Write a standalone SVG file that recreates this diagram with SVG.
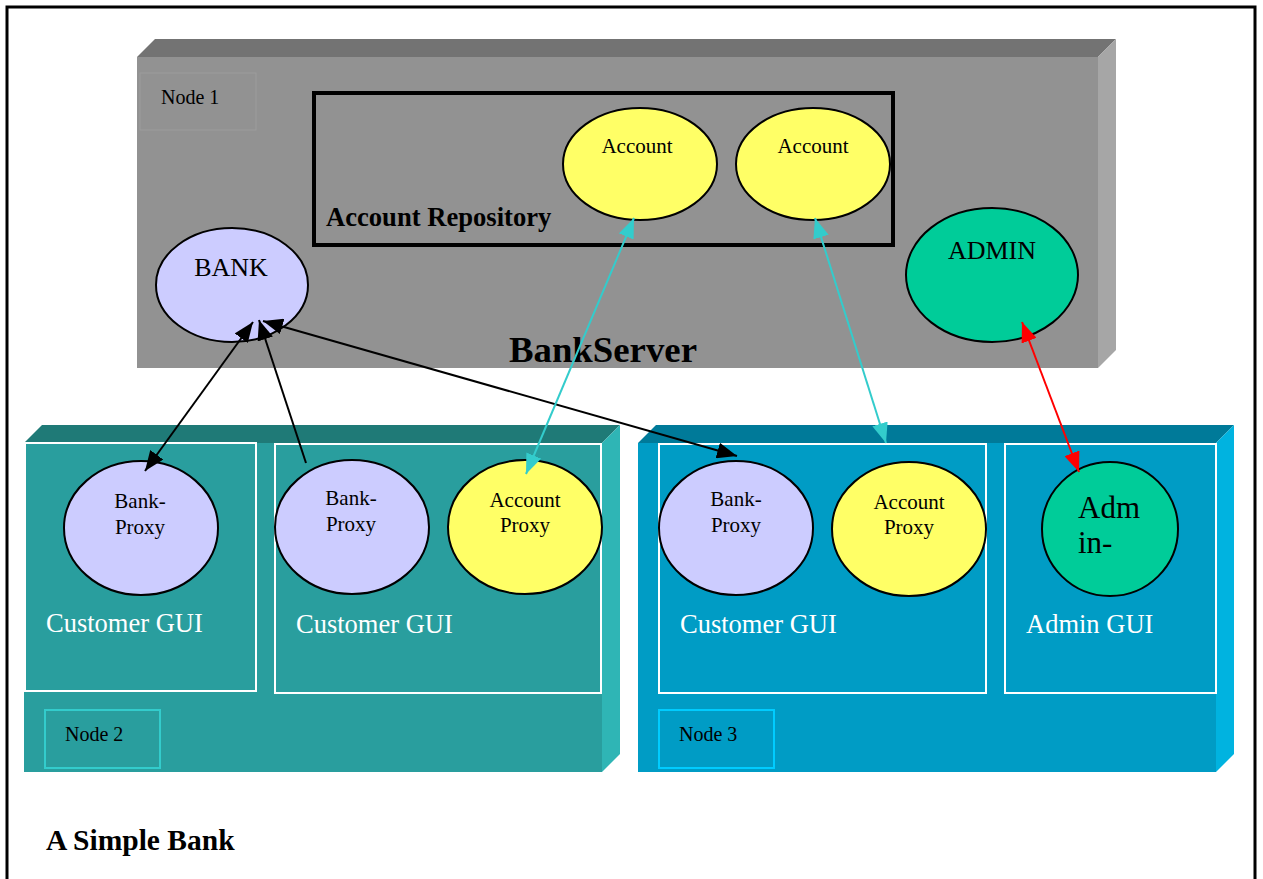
<svg xmlns="http://www.w3.org/2000/svg" width="1263" height="879" viewBox="0 0 1263 879">
  <defs>
    <style>
      .serif { font-family: "Liberation Serif", "Times New Roman", serif; }
      .node-label { font-size: 20px; fill: #000; }
      .obj { stroke: #000; stroke-width: 2; }
      .obj-text { font-size: 21px; fill: #000; text-anchor: middle; }
      .big-text { font-size: 26px; fill: #000; text-anchor: middle; }
      .gui { fill: none; stroke: #ffffff; stroke-width: 2; }
      .gui-text { font-size: 26.5px; fill: #ffffff; }
      .bank { fill: #ccccff; }
      .acct { fill: #ffff66; }
      .admin { fill: #00cc99; }
      .conn { fill: none; stroke-width: 2; }
    </style>
    <marker id="ah-black" viewBox="0 0 20 16" refX="20" refY="8" markerWidth="20" markerHeight="16" markerUnits="userSpaceOnUse" orient="auto-start-reverse">
      <path d="M0,0 L20,8 L0,16 Z" fill="#000"/>
    </marker>
    <marker id="ah-cyan" viewBox="0 0 20 16" refX="20" refY="8" markerWidth="20" markerHeight="16" markerUnits="userSpaceOnUse" orient="auto-start-reverse">
      <path d="M0,0 L20,8 L0,16 Z" fill="#33cccc"/>
    </marker>
    <marker id="ah-red" viewBox="0 0 20 16" refX="20" refY="8" markerWidth="20" markerHeight="16" markerUnits="userSpaceOnUse" orient="auto-start-reverse">
      <path d="M0,0 L20,8 L0,16 Z" fill="#ff0000"/>
    </marker>
  </defs>

  <rect x="0" y="0" width="1263" height="879" fill="#ffffff"/>
  <!-- page frame -->
  <path d="M7,879 V7 H1255 V879" fill="none" stroke="#000" stroke-width="3"/>

  <!-- Node 1: BankServer -->
  <g id="node1">
    <polygon points="137,57 155,39 1116,39 1098,57" fill="#737373"/>
    <polygon points="1098,57 1116,39 1116,350 1098,368" fill="#a6a6a6"/>
    <rect x="137" y="57" width="961" height="311" fill="#929292"/>
    <rect x="140" y="73" width="116" height="57" fill="none" stroke="#9c9c9c" stroke-width="1"/>
    <text class="serif node-label" x="161" y="104">Node 1</text>
    <text class="serif" x="603" y="362" font-size="36.8" font-weight="bold" text-anchor="middle">BankServer</text>
  </g>

  <g id="account-repository">
    <rect x="314" y="93" width="579" height="152" fill="none" stroke="#000" stroke-width="4"/>
    <text class="serif" x="326" y="226" font-size="26.6" font-weight="bold">Account Repository</text>
  </g>

  <g id="account-1">
    <ellipse class="obj acct" cx="640" cy="164" rx="77" ry="56"/>
    <text class="serif obj-text" x="637" y="153">Account</text>
  </g>
  <g id="account-2">
    <ellipse class="obj acct" cx="813" cy="164" rx="77" ry="56"/>
    <text class="serif obj-text" x="813" y="153">Account</text>
  </g>

  <g id="bank">
    <ellipse class="obj bank" cx="232" cy="285" rx="76" ry="57"/>
    <text class="serif big-text" x="231" y="276">BANK</text>
  </g>

  <g id="admin">
    <ellipse class="obj admin" cx="992" cy="275" rx="86" ry="67"/>
    <text class="serif big-text" x="992" y="259">ADMIN</text>
  </g>

  <!-- Node 2: customer workstation -->
  <g id="node2">
    <polygon points="24,443 42,425 620,425 602,443" fill="#1f7a77"/>
    <polygon points="602,443 620,425 620,754 602,772" fill="#2fb5b5"/>
    <rect x="24" y="443" width="578" height="329" fill="#299e9e"/>
    <rect class="gui" x="25" y="443" width="231" height="248"/>
    <rect class="gui" x="275" y="444" width="326" height="249"/>
    <rect x="45" y="710" width="115" height="58" fill="none" stroke="#33cccc" stroke-width="2"/>
    <text class="serif node-label" x="65" y="741">Node 2</text>
    <text class="serif gui-text" x="46" y="632">Customer GUI</text>
    <text class="serif gui-text" x="296" y="633">Customer GUI</text>
  </g>

  <g id="bank-proxy-1">
    <ellipse class="obj bank" cx="141" cy="528" rx="77" ry="67"/>
    <text class="serif obj-text" x="140" y="508">Bank-</text>
    <text class="serif obj-text" x="140" y="534">Proxy</text>
  </g>
  <g id="bank-proxy-2">
    <ellipse class="obj bank" cx="352" cy="527" rx="77" ry="67"/>
    <text class="serif obj-text" x="351" y="505">Bank-</text>
    <text class="serif obj-text" x="351" y="531">Proxy</text>
  </g>
  <g id="account-proxy-2">
    <ellipse class="obj acct" cx="525" cy="527" rx="77" ry="67"/>
    <text class="serif obj-text" x="525" y="507">Account</text>
    <text class="serif obj-text" x="525" y="532">Proxy</text>
  </g>

  <!-- Node 3: customer and admin workstation -->
  <g id="node3">
    <polygon points="638,443 656,425 1234,425 1216,443" fill="#007a99"/>
    <polygon points="1216,443 1234,425 1234,754 1216,772" fill="#00b3e0"/>
    <rect x="638" y="443" width="578" height="329" fill="#009cc5"/>
    <rect class="gui" x="659" y="444" width="327" height="249"/>
    <rect class="gui" x="1005" y="444" width="211" height="249"/>
    <rect x="659" y="710" width="115" height="58" fill="none" stroke="#00ccff" stroke-width="2"/>
    <text class="serif node-label" x="679" y="741">Node 3</text>
    <text class="serif gui-text" x="680" y="633">Customer GUI</text>
    <text class="serif gui-text" x="1026" y="633">Admin GUI</text>
  </g>

  <g id="bank-proxy-3">
    <ellipse class="obj bank" cx="736" cy="528" rx="77" ry="67"/>
    <text class="serif obj-text" x="736" y="506">Bank-</text>
    <text class="serif obj-text" x="736" y="532">Proxy</text>
  </g>
  <g id="account-proxy-3">
    <ellipse class="obj acct" cx="909" cy="529" rx="77" ry="67"/>
    <text class="serif obj-text" x="909" y="509">Account</text>
    <text class="serif obj-text" x="909" y="534">Proxy</text>
  </g>
  <g id="admin-proxy">
    <ellipse class="obj admin" cx="1110" cy="529" rx="68" ry="67"/>
    <text class="serif" x="1078" y="518" font-size="31">Adm</text>
    <text class="serif" x="1078" y="553" font-size="31">in-</text>
  </g>

  <!-- connectors -->
  <g id="connectors">
    <line class="conn" x1="145" y1="471" x2="253" y2="322" stroke="#000" marker-start="url(#ah-black)" marker-end="url(#ah-black)"/>
    <line class="conn" x1="306" y1="463" x2="259" y2="320" stroke="#000" marker-end="url(#ah-black)"/>
    <line class="conn" x1="737" y1="456" x2="263" y2="321" stroke="#000" marker-start="url(#ah-black)" marker-end="url(#ah-black)"/>
    <line class="conn" x1="526" y1="474" x2="634" y2="218" stroke="#33cccc" marker-start="url(#ah-cyan)" marker-end="url(#ah-cyan)"/>
    <line class="conn" x1="886" y1="443" x2="815" y2="218" stroke="#33cccc" marker-start="url(#ah-cyan)" marker-end="url(#ah-cyan)"/>
    <line class="conn" x1="1079" y1="472" x2="1022" y2="322" stroke="#ff0000" marker-start="url(#ah-red)" marker-end="url(#ah-red)"/>
  </g>

  <text class="serif" x="46" y="850" font-size="29.5" font-weight="bold">A Simple Bank</text>
</svg>
